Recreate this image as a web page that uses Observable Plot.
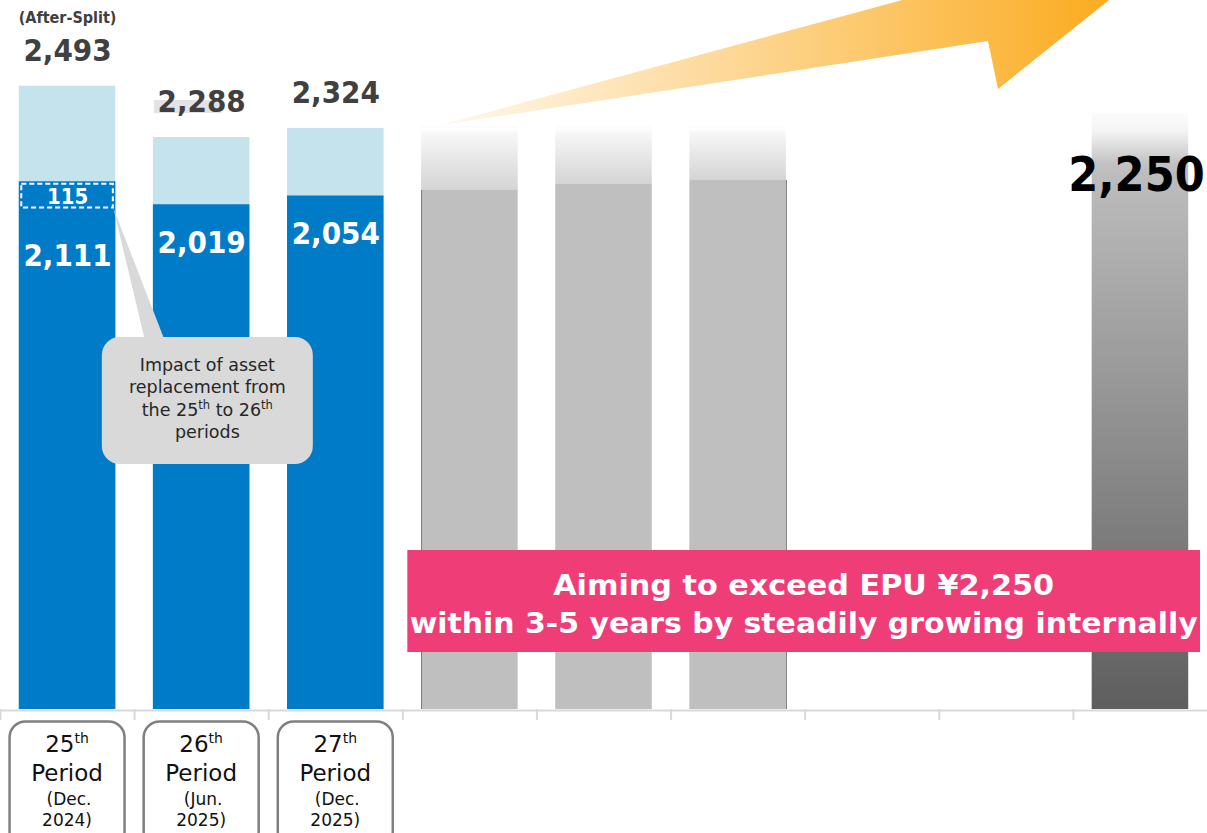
<!DOCTYPE html>
<html><head><meta charset="utf-8">
<script src="https://cdn.jsdelivr.net/npm/d3@7"></script>
<script src="https://cdn.jsdelivr.net/npm/@observablehq/plot@0.6"></script>
<style>
html,body{margin:0;padding:0;background:#fff;overflow:hidden}
#chart svg{display:block;overflow:hidden}
.cnum text, text.cnum{font-family:'DejaVu Sans Condensed','DejaVu Sans',sans-serif;font-stretch:condensed}
</style></head><body><div id="chart"></div>
<script>
// ---------- data ----------
const periodKeys = ["25","26","27","28","29","30","31","32","33"];
const actualPeriods = ["25","26","27"];
const ordinalSuffix = ["th","th","th"];
const closeMonths = ["(Dec.","(Jun.","(Dec."];
const closeYears = ["2024)","2025)","2025)"];
const totalEPU = [2493, 2288, 2324];
const baseEPU = [2111, 2019, 2054];
const replacementImpact = [115, 0, 0];
const futurePeriods = ["28","29","30"];
const futureSolid = [2076, 2100, 2116];
const futureFadeTop = [2332, 2332, 2332];
const targetPeriod = "33";
const targetEPU = 2250;
const targetBarTop = 2384;
const bannerLines = ["Aiming to exceed EPU ¥2,250", "within 3-5 years by steadily growing internally"];
const calloutLines = [["Impact of asset"], ["replacement from"], ["the 25", "th", " to 26", "th"], ["periods"]];
// arrow outline: [band index position, EPU level]
const arrowX = [3.288, 7.83, 8.642, 8.27, 7.442, 7.367];
const arrowY = [2336, 2996, 2996, 2836, 2480, 2672];

const actual = actualPeriods.map((p, i) => ({period: p, total: totalEPU[i], base: baseEPU[i], impact: replacementImpact[i],
  month: closeMonths[i], year: closeYears[i], suffix: ordinalSuffix[i]}));
const future = future_rows();
function future_rows() { return futurePeriods.map((p, i) => ({period: p, solid: futureSolid[i], top: futureFadeTop[i]})); }
const target = [{period: targetPeriod, value: targetEPU, top: targetBarTop}];
const arrow = arrowX.map((x, i) => ({x, y: arrowY[i]}));

// ---------- styles ----------
const W = 1207, H = 833, baseY = 709, yMax = 2836;
const BLUE = "#007bc7", LIGHT = "#c5e3ed", PINK = "#ef3d78", GRAY = "#bfbfbf";
const condensed = "'DejaVu Sans Condensed','DejaVu Sans',sans-serif";
const regular = "'DejaVu Sans',Verdana,sans-serif";
const fmt = d3.format(",");
const NS = "http://www.w3.org/2000/svg";
function el(tag, attrs, parent) {
  const e = document.createElementNS(NS, tag);
  for (const k in attrs) e.setAttribute(k, attrs[k]);
  if (parent) parent.appendChild(e);
  return e;
}
function geom(scales) {
  const step = scales.x(periodKeys[1]) - scales.x(periodKeys[0]);
  const center = (p) => (periodKeys.indexOf(p) + 0.5) * step;
  const at = (f) => f * step;
  return {step, center, at, bw: step * 0.72};
}

function defsMark() {
  const d = el("defs", {});
  const g1 = el("linearGradient", {id: "fadeGrad", x1: 0, y1: 0, x2: 0, y2: 1}, d);
  el("stop", {offset: 0, "stop-color": "#f9f9f9"}, g1);
  el("stop", {offset: 0.04, "stop-color": "#ffffff"}, g1);
  el("stop", {offset: 0.12, "stop-color": "#f7f7f7"}, g1);
  el("stop", {offset: 1, "stop-color": "#d4d4d4"}, g1);
  const g2 = el("linearGradient", {id: "targetGrad", x1: 0, y1: 0, x2: 0, y2: 1}, d);
  el("stop", {offset: 0, "stop-color": "#fbfbfb"}, g2);
  el("stop", {offset: 0.03, "stop-color": "#f4f4f4"}, g2);
  el("stop", {offset: 0.085, "stop-color": "#c2c2c2"}, g2);
  el("stop", {offset: 0.1, "stop-color": "#bdbdbd"}, g2);
  el("stop", {offset: 1, "stop-color": "#5e5e5e"}, g2);
  const g3 = el("linearGradient", {id: "arrowGrad", x1: 0, y1: 0, x2: 1, y2: 0}, d);
  el("stop", {offset: 0, "stop-color": "#fff8ee"}, g3);
  el("stop", {offset: 0.45, "stop-color": "#fdd48c"}, g3);
  el("stop", {offset: 0.9, "stop-color": "#fbae27"}, g3);
  el("stop", {offset: 1, "stop-color": "#fba61b"}, g3);
  return d;
}

function arrowMark(index, scales) {
  const {at} = geom(scales);
  const pts = arrow.map(p => [at(p.x), scales.y(p.y)]);
  return el("path", {d: "M" + pts.map(p => p.join(",")).join("L") + "Z", fill: "url(#arrowGrad)"});
}

function periodLabels(index, scales) {
  const {center} = geom(scales);
  const y0 = scales.y(0);
  const g = el("g", {"font-family": regular, fill: "#111", "text-anchor": "middle"});
  for (const d of actual) {
    const cx = center(d.period);
    el("rect", {x: cx - 57.5, y: y0 + 12.5, width: 115, height: 126, rx: 16, fill: "#fff", stroke: "#7f7f7f", "stroke-width": 2.5}, g);
    const t1 = el("text", {x: cx, y: y0 + 43, "font-size": 23}, g);
    el("tspan", {}, t1).textContent = d.period;
    const s = el("tspan", {"font-size": 14, dy: -9}, t1); s.textContent = d.suffix;
    el("text", {x: cx, y: y0 + 72, "font-size": 23}, g).textContent = "Period";
    el("text", {x: cx + 2, y: y0 + 96, "font-size": 17}, g).textContent = d.month;
    el("text", {x: cx, y: y0 + 117, "font-size": 17}, g).textContent = d.year;
  }
  return g;
}

function callout(index, scales) {
  const {center, bw} = geom(scales);
  const d = actual[0];
  const bx = center(d.period) + bw / 2, by = scales.y(d.base - d.impact);
  const g = el("g", {});
  el("path", {d: `M${bx - 2},${by - 2}L${bx + 30},${by + 132}L${bx + 50},${by + 132}Z`, fill: "#d9d9d9"}, g);
  el("rect", {x: bx - 13.5, y: by + 127, width: 211, height: 127, rx: 18, fill: "#d9d9d9"}, g);
  const cx = bx - 13.5 + 105.5;
  calloutLines.forEach((parts, i) => {
    const t = el("text", {x: cx, y: by + 161 + i * 22.3, "font-size": 17.5, "font-family": regular, fill: "#262626", "text-anchor": "middle"}, g);
    parts.forEach((p, j) => {
      const sup = j % 2 === 1;
      const a = sup ? {"font-size": 11.5, dy: -7} : (j > 0 ? {dy: 7} : {});
      el("tspan", a, t).textContent = p;
    });
  });
  return g;
}

function banner(index, scales) {
  const {at} = geom(scales);
  const x1 = at(3) + 5, x2 = at(9) - 7;
  const yTop = scales.y(636), yBot = scales.y(228);
  const g = el("g", {});
  el("rect", {x: x1, y: yTop, width: x2 - x1, height: yBot - yTop, fill: PINK}, g);
  const cx = (x1 + x2) / 2;
  const lens = [501, 788];
  bannerLines.forEach((s, i) => {
    const t = el("text", {x: cx, y: yTop + 45 + i * 38, "font-size": 29, "font-weight": "bold", fill: "#fff",
      "text-anchor": "middle", "font-family": condensed, textLength: lens[i], lengthAdjust: "spacingAndGlyphs"}, g);
    t.textContent = s;
  });
  return g;
}

const withImpact = actual.filter(d => d.impact > 0);
const noImpact = actual.filter(d => d.impact === 0);

const plot = Plot.plot({
  width: W, height: H,
  marginTop: 0, marginRight: 0, marginLeft: 0, marginBottom: H - baseY,
  style: {fontFamily: regular, background: "#fff", overflow: "hidden"},
  x: {type: "band", domain: periodKeys, paddingInner: 0.28, paddingOuter: 0.14, axis: null, round: false},
  y: {domain: [0, yMax], axis: null},
  marks: [
    defsMark,
    Plot.barY(actual, {x: "period", y: "total", fill: LIGHT}),
    Plot.barY(actual, {x: "period", y: "base", fill: BLUE}),
    Plot.barY(future, {x: "period", y1: "solid", y2: "top", fill: "url(#fadeGrad)"}),
    Plot.barY(future, {x: "period", y: "solid", fill: GRAY}),
    Plot.barY(target, {x: "period", y: "top", fill: "url(#targetGrad)"}),
    Plot.ruleX([future[0]], {x: "period", y1: 0, y2: "solid", dx: -48.3, stroke: "#7a7a7a", strokeWidth: 1}),
    Plot.ruleX([future[2]], {x: "period", y1: 0, y2: "solid", dx: 48.3, stroke: "#7a7a7a", strokeWidth: 1}),
    arrowMark,
    Plot.ruleY([0], {stroke: "#d9d9d9", strokeWidth: 2, dy: 1}),
    Plot.ruleX(periodKeys, {x: d => d, y1: 0, y2: -44, dx: -W / 18, stroke: "#d9d9d9", strokeWidth: 2}),
    Plot.barY(withImpact, {x: "period", y1: d => d.base - d.impact, y2: "base", fill: "none",
      stroke: "#fff", strokeWidth: 2, strokeDasharray: "5,3", inset: 2.5}),
    Plot.text(withImpact, {x: "period", y: d => d.base - d.impact / 2, text: d => fmt(d.impact), dy: 1,
      fill: "#fff", fontSize: 22, fontWeight: "bold", className: "cnum"}),
    // faint highlight remnant behind the 26th-period total
    Plot.barY(noImpact.slice(0, 1), {x: "period", y1: d => d.total + 96, y2: d => d.total + 148, fill: "#e3e3e3", insetRight: 28, insetLeft: 1}),
    Plot.text(actual, {x: "period", y: "total", text: d => fmt(d.total), dy: -35, fill: "#404040", fontSize: 31, fontWeight: "bold", className: "cnum"}),
    Plot.text(actual.slice(0, 1), {x: "period", y: "total", text: () => "(After-Split)", dy: -68, fill: "#404040", fontSize: 16, fontWeight: "bold", className: "cnum"}),
    Plot.text(withImpact, {x: "period", y: d => d.base - d.impact, text: d => fmt(d.base), dy: 46, fill: "#fff", fontSize: 31, fontWeight: "bold", className: "cnum"}),
    Plot.text(noImpact, {x: "period", y: "base", text: d => fmt(d.base), dy: 38, fill: "#fff", fontSize: 31, fontWeight: "bold", className: "cnum"}),
    Plot.text(target, {x: "period", y: "value", text: d => fmt(d.value), dy: 29, dx: -4, fill: "#000", fontSize: 48, fontWeight: "bold", className: "cnum"}),
    callout,
    banner,
    periodLabels
  ]
});
document.getElementById("chart").appendChild(plot);
</script></body></html>
